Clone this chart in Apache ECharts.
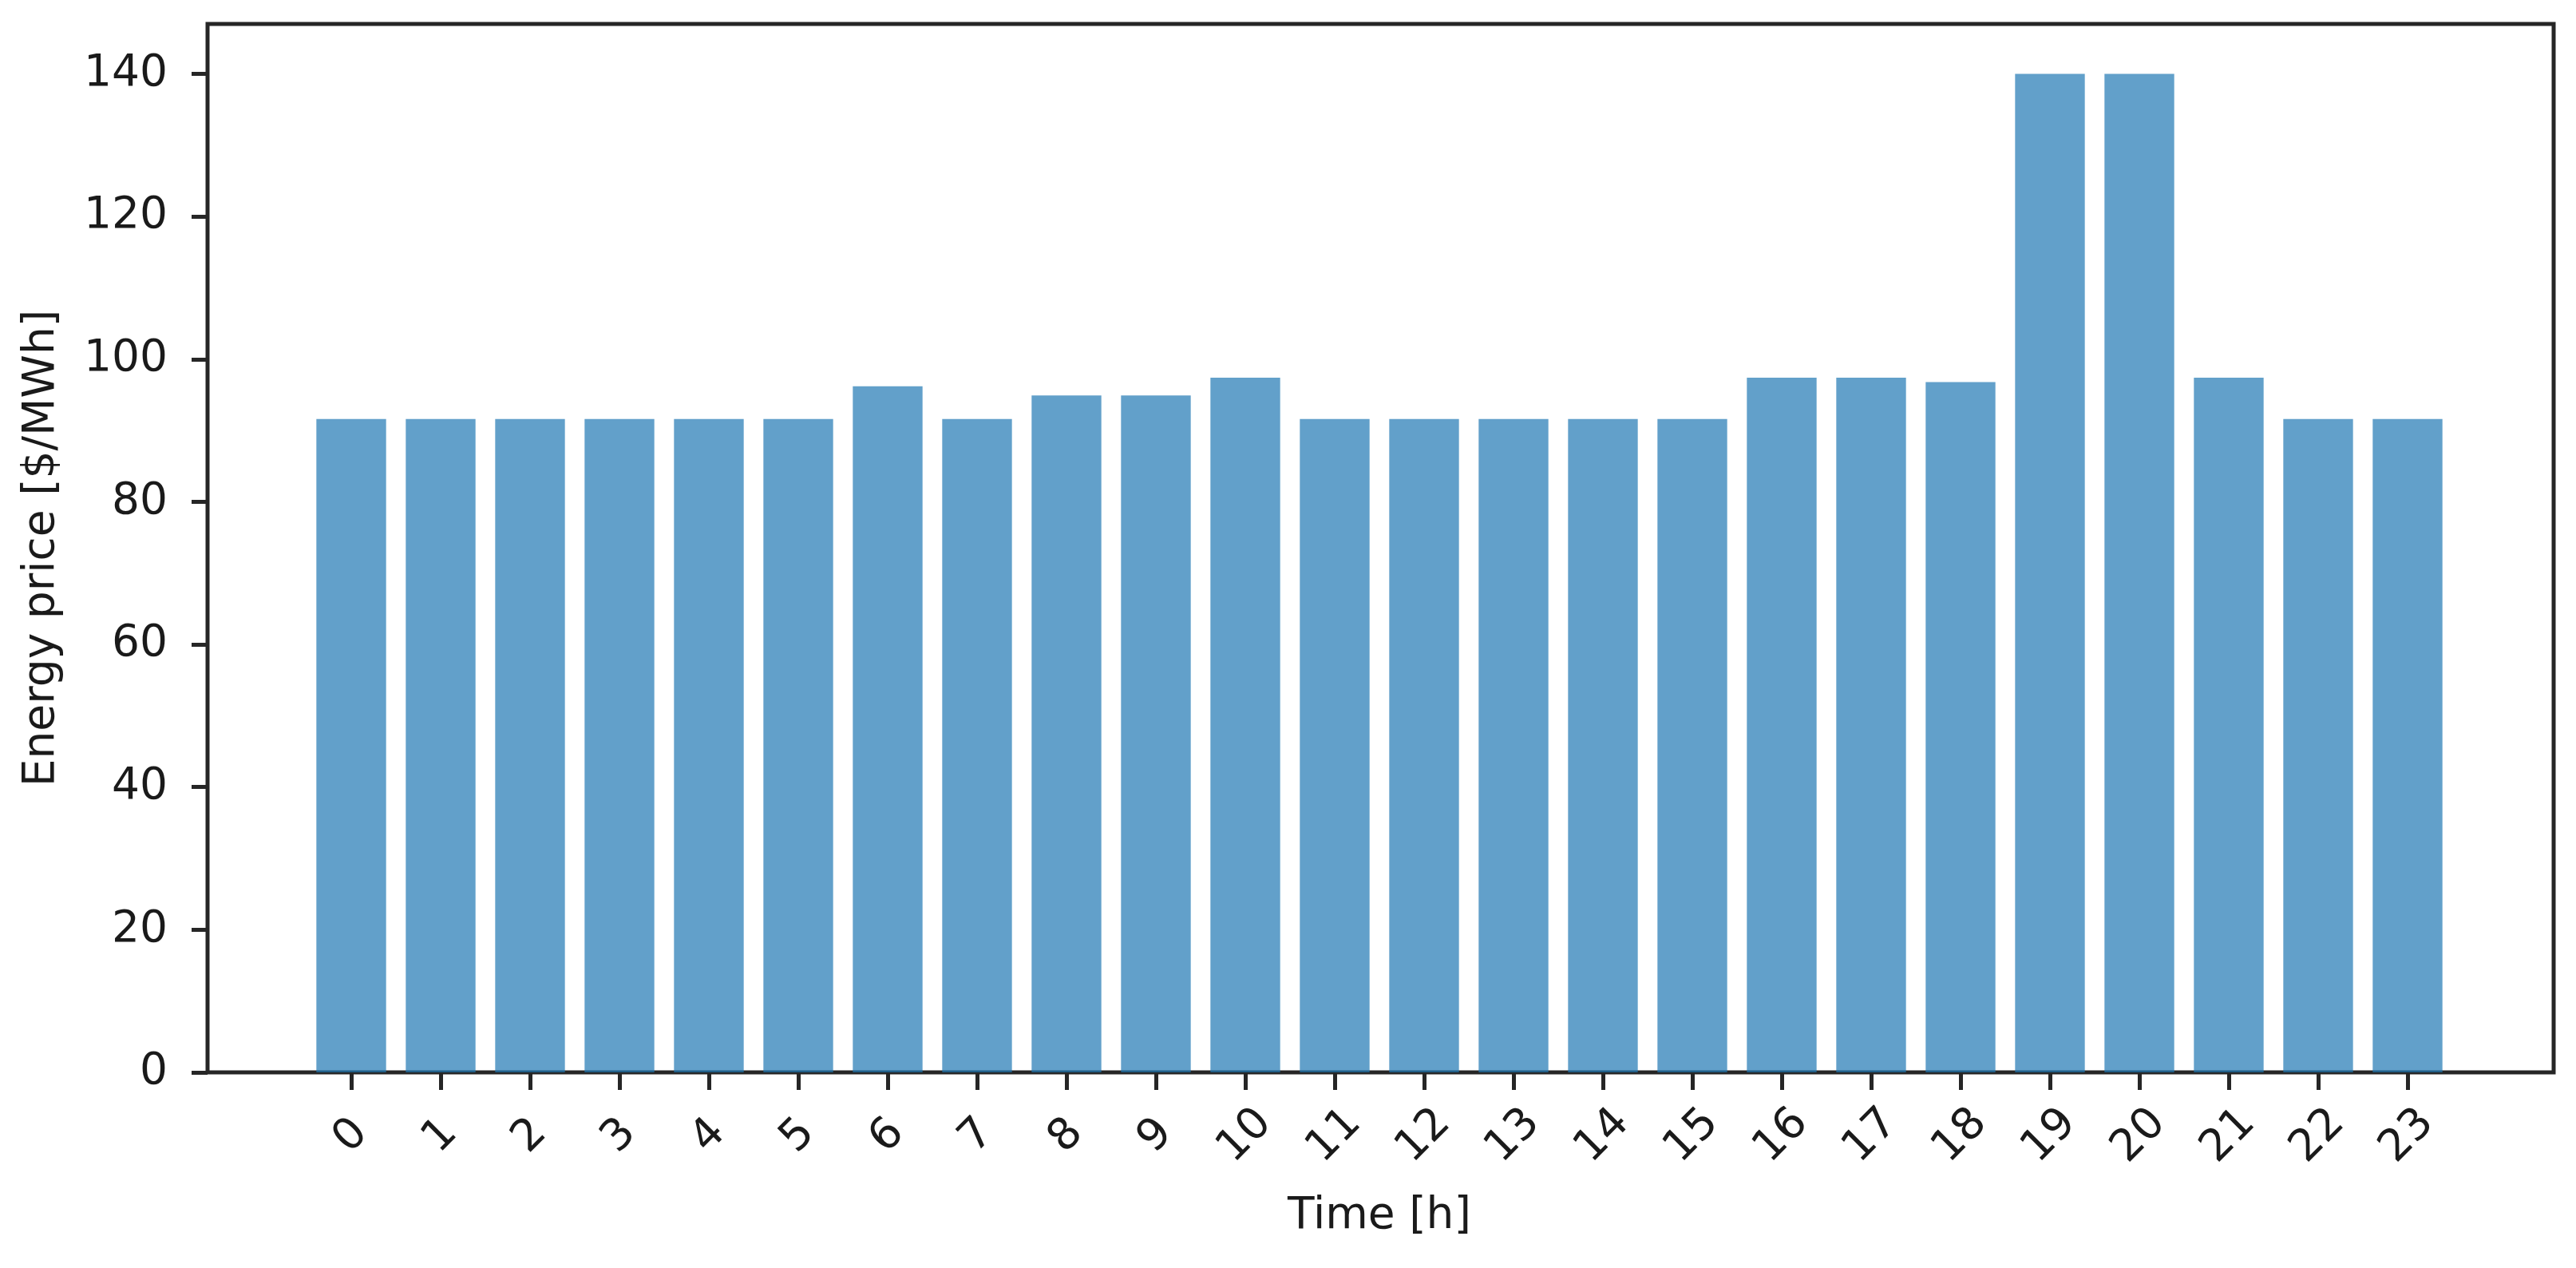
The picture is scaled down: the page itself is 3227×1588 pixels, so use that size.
<!DOCTYPE html>
<html>
<head>
<meta charset="utf-8">
<title>Energy price</title>
<script src="https://cdn.jsdelivr.net/npm/echarts@6/dist/echarts.min.js"></script>
<style>
    html, body {
        margin: 0;
        padding: 0;
        background: #fff;
    }

    #chart {
        width: 3227px;
        height: 1588px;
    }
</style>
</head>
<body>
<div id="chart"></div>
<script>
// hourly price data
const hours = ['0', '1', '2', '3', '4', '5', '6', '7', '8', '9', '10', '11',
    '12', '13', '14', '15', '16', '17', '18', '19', '20', '21', '22', '23']
const prices = [91.6, 91.6, 91.6, 91.6, 91.6, 91.6, 96.2, 91.6, 94.9, 94.9, 97.4, 91.6,
    91.6, 91.6, 91.6, 91.6, 97.4, 97.4, 96.8, 140, 140, 97.4, 91.6, 91.6]
const yTicks = [0, 20, 40, 60, 80, 100, 120, 140]
const yMax = 147

const font = 'DejaVu Sans'
const ink = '#1a1a1a'
const spine = '#262626'

let myChart = echarts.init(document.getElementById('chart'))
myChart.setOption({
    animation: false,
    backgroundColor: '#fff',
    // grid 0 = frame + y axis, grid 1 = the bars (matplotlib margins)
    grid: [
        { left: 260, right: 28, top: 30, bottom: 245, show: true, borderColor: spine, borderWidth: 5 },
        { left: 384, right: 155, top: 30, bottom: 245 }
    ],
    xAxis: [
        { type: 'value', gridIndex: 0, show: false, min: 0, max: 1 },
        {
            type: 'category',
            gridIndex: 1,
            data: hours,
            boundaryGap: true,
            axisLine: { show: false },
            axisTick: {
                show: true,
                alignWithLabel: true,
                length: 22,
                lineStyle: { color: spine, width: 5 }
            },
            axisLabel: {
                interval: 0,
                rotate: 45,
                align: 'center',
                verticalAlign: 'middle',
                margin: 80,
                fontFamily: font,
                fontSize: 55,
                color: ink
            },
            name: 'Time [h]',
            nameLocation: 'middle',
            nameGap: 153,
            nameTextStyle: { fontFamily: font, fontSize: 55, color: ink }
        }
    ],
    yAxis: [
        {
            type: 'value',
            gridIndex: 0,
            min: 0,
            max: yMax,
            splitLine: { show: false },
            axisLine: { show: false },
            axisTick: {
                show: true,
                length: 20,
                customValues: yTicks,
                lineStyle: { color: spine, width: 5 }
            },
            axisLabel: {
                customValues: yTicks,
                margin: 50,
                fontFamily: font,
                fontSize: 55,
                color: ink
            },
            name: 'Energy price [$/MWh]',
            nameLocation: 'middle',
            nameGap: 180,
            nameTextStyle: { fontFamily: font, fontSize: 55, color: ink }
        },
        { type: 'value', gridIndex: 1, min: 0, max: yMax, show: false }
    ],
    series: [
        {
            type: 'bar',
            xAxisIndex: 1,
            yAxisIndex: 1,
            barWidth: '78%',
            itemStyle: { color: 'rgba(31, 119, 180, 0.7)' },
            data: prices
        }
    ]
})
</script>
</body>
</html>
